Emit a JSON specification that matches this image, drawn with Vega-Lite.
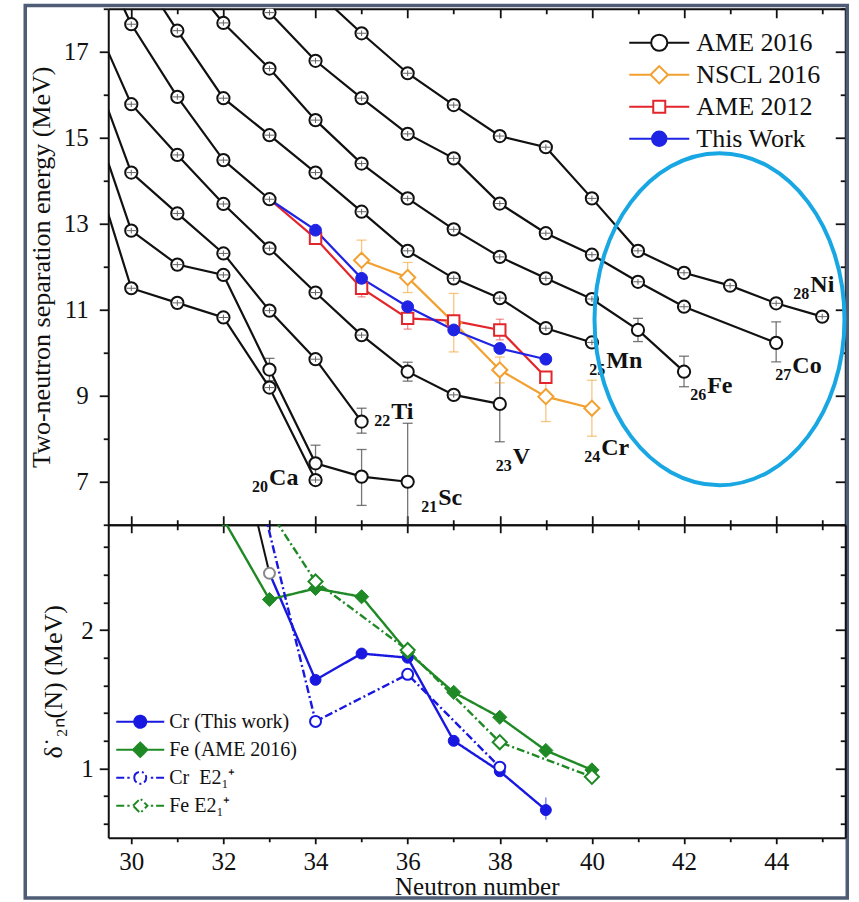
{
  "$schema": "https://vega.github.io/schema/vega-lite/v6.json",
  "padding": {"left": 23.25, "top": 3.75, "right": 0, "bottom": 0},
  "bounds": "flush",
  "spacing": 0,
  "resolve": {
    "scale": {"color": "independent", "strokeDash": "independent"},
    "legend": {"color": "independent", "strokeDash": "independent"}
  },
  "config": {
    "view": {"stroke": null},
    "font": "Liberation Serif",
    "legend": {"labelFont": "Liberation Serif", "labelColor": "#111111"},
    "axis": {
      "grid": false,
      "domainColor": "#111111",
      "domainWidth": 2,
      "tickColor": "#111111",
      "tickWidth": 1.8,
      "labelFont": "Liberation Serif",
      "labelFontSize": 25,
      "labelColor": "#111111",
      "titleFont": "Liberation Serif",
      "titleFontSize": 26,
      "titleFontWeight": "normal",
      "titleColor": "#111111"
    }
  },
  "datasets": {
    "s2n": [
      {"series": "AME 2016", "el": "Ca", "N": 29, "S": 14.95},
      {"series": "AME 2016", "el": "Ca", "N": 30, "S": 11.50},
      {"series": "AME 2016", "el": "Ca", "N": 31, "S": 11.16},
      {"series": "AME 2016", "el": "Ca", "N": 32, "S": 10.82},
      {"series": "AME 2016", "el": "Ca", "N": 33, "S": 9.19},
      {"series": "AME 2016", "el": "Ca", "N": 34, "S": 7.04},
      {"series": "AME 2016", "el": "Sc", "N": 29, "S": 16.0},
      {"series": "AME 2016", "el": "Sc", "N": 30, "S": 12.84},
      {"series": "AME 2016", "el": "Sc", "N": 31, "S": 12.05},
      {"series": "AME 2016", "el": "Sc", "N": 32, "S": 11.81},
      {"series": "AME 2016", "el": "Sc", "N": 33, "S": 9.61, "lo": 9.35, "hi": 9.87},
      {"series": "AME 2016", "el": "Sc", "N": 34, "S": 7.43, "lo": 7.01, "hi": 7.85},
      {"series": "AME 2016", "el": "Sc", "N": 35, "S": 7.12, "lo": 6.45, "hi": 7.75},
      {"series": "AME 2016", "el": "Sc", "N": 36, "S": 7.00, "lo": 5.64, "hi": 8.36},
      {"series": "AME 2016", "el": "Ti", "N": 29, "S": 17.1},
      {"series": "AME 2016", "el": "Ti", "N": 30, "S": 14.19},
      {"series": "AME 2016", "el": "Ti", "N": 31, "S": 13.24},
      {"series": "AME 2016", "el": "Ti", "N": 32, "S": 12.31},
      {"series": "AME 2016", "el": "Ti", "N": 33, "S": 10.98},
      {"series": "AME 2016", "el": "Ti", "N": 34, "S": 9.85},
      {"series": "AME 2016", "el": "Ti", "N": 35, "S": 8.40, "lo": 8.13, "hi": 8.71},
      {"series": "AME 2016", "el": "V", "N": 29, "S": 18.2},
      {"series": "AME 2016", "el": "V", "N": 30, "S": 15.78},
      {"series": "AME 2016", "el": "V", "N": 31, "S": 14.60},
      {"series": "AME 2016", "el": "V", "N": 32, "S": 13.46},
      {"series": "AME 2016", "el": "V", "N": 33, "S": 12.43},
      {"series": "AME 2016", "el": "V", "N": 34, "S": 11.40},
      {"series": "AME 2016", "el": "V", "N": 35, "S": 10.41},
      {"series": "AME 2016", "el": "V", "N": 36, "S": 9.56, "lo": 9.34, "hi": 9.78},
      {"series": "AME 2016", "el": "V", "N": 37, "S": 9.02},
      {"series": "AME 2016", "el": "V", "N": 38, "S": 8.81, "lo": 7.93, "hi": 9.67},
      {"series": "AME 2016", "el": "Cr", "N": 29, "S": 19.9},
      {"series": "AME 2016", "el": "Cr", "N": 30, "S": 17.64},
      {"series": "AME 2016", "el": "Cr", "N": 31, "S": 15.95},
      {"series": "AME 2016", "el": "Cr", "N": 32, "S": 14.48},
      {"series": "AME 2016", "el": "Cr", "N": 33, "S": 13.57},
      {"series": "AME 2016", "el": "Mn", "N": 30, "S": 19.15},
      {"series": "AME 2016", "el": "Mn", "N": 31, "S": 17.49},
      {"series": "AME 2016", "el": "Mn", "N": 32, "S": 15.92},
      {"series": "AME 2016", "el": "Mn", "N": 33, "S": 15.06},
      {"series": "AME 2016", "el": "Mn", "N": 34, "S": 14.19},
      {"series": "AME 2016", "el": "Mn", "N": 35, "S": 13.28},
      {"series": "AME 2016", "el": "Mn", "N": 36, "S": 12.37},
      {"series": "AME 2016", "el": "Mn", "N": 37, "S": 11.73},
      {"series": "AME 2016", "el": "Mn", "N": 38, "S": 11.27},
      {"series": "AME 2016", "el": "Mn", "N": 39, "S": 10.57},
      {"series": "AME 2016", "el": "Mn", "N": 40, "S": 10.24},
      {"series": "AME 2016", "el": "Fe", "N": 31, "S": 18.97},
      {"series": "AME 2016", "el": "Fe", "N": 32, "S": 17.67},
      {"series": "AME 2016", "el": "Fe", "N": 33, "S": 16.61},
      {"series": "AME 2016", "el": "Fe", "N": 34, "S": 15.41},
      {"series": "AME 2016", "el": "Fe", "N": 35, "S": 14.40},
      {"series": "AME 2016", "el": "Fe", "N": 36, "S": 13.59},
      {"series": "AME 2016", "el": "Fe", "N": 37, "S": 12.87},
      {"series": "AME 2016", "el": "Fe", "N": 38, "S": 12.23},
      {"series": "AME 2016", "el": "Fe", "N": 39, "S": 11.73},
      {"series": "AME 2016", "el": "Fe", "N": 40, "S": 11.25},
      {"series": "AME 2016", "el": "Fe", "N": 41, "S": 10.53, "lo": 10.26, "hi": 10.80},
      {"series": "AME 2016", "el": "Fe", "N": 42, "S": 9.56, "lo": 9.21, "hi": 9.92},
      {"series": "AME 2016", "el": "Co", "N": 32, "S": 19.1},
      {"series": "AME 2016", "el": "Co", "N": 33, "S": 17.91},
      {"series": "AME 2016", "el": "Co", "N": 34, "S": 16.79},
      {"series": "AME 2016", "el": "Co", "N": 35, "S": 15.92},
      {"series": "AME 2016", "el": "Co", "N": 36, "S": 15.09},
      {"series": "AME 2016", "el": "Co", "N": 37, "S": 14.52},
      {"series": "AME 2016", "el": "Co", "N": 38, "S": 13.47},
      {"series": "AME 2016", "el": "Co", "N": 39, "S": 12.78},
      {"series": "AME 2016", "el": "Co", "N": 40, "S": 12.28},
      {"series": "AME 2016", "el": "Co", "N": 41, "S": 11.65},
      {"series": "AME 2016", "el": "Co", "N": 42, "S": 11.07},
      {"series": "AME 2016", "el": "Co", "N": 44, "S": 10.23, "lo": 9.79, "hi": 10.72},
      {"series": "AME 2016", "el": "Ni", "N": 34, "S": 18.42},
      {"series": "AME 2016", "el": "Ni", "N": 35, "S": 17.43},
      {"series": "AME 2016", "el": "Ni", "N": 36, "S": 16.50},
      {"series": "AME 2016", "el": "Ni", "N": 37, "S": 15.76},
      {"series": "AME 2016", "el": "Ni", "N": 38, "S": 15.04},
      {"series": "AME 2016", "el": "Ni", "N": 39, "S": 14.78},
      {"series": "AME 2016", "el": "Ni", "N": 40, "S": 13.59},
      {"series": "AME 2016", "el": "Ni", "N": 41, "S": 12.37},
      {"series": "AME 2016", "el": "Ni", "N": 42, "S": 11.86},
      {"series": "AME 2016", "el": "Ni", "N": 43, "S": 11.56},
      {"series": "AME 2016", "el": "Ni", "N": 44, "S": 11.15},
      {"series": "AME 2016", "el": "Ni", "N": 45, "S": 10.84},
      {"series": "NSCL 2016", "el": "Cr", "N": 35, "S": 12.15, "lo": 11.68, "hi": 12.62},
      {"series": "NSCL 2016", "el": "Cr", "N": 36, "S": 11.75, "lo": 11.40, "hi": 12.10},
      {"series": "NSCL 2016", "el": "Cr", "N": 37, "S": 10.70, "lo": 10.02, "hi": 11.38},
      {"series": "NSCL 2016", "el": "Cr", "N": 38, "S": 9.60, "lo": 9.30, "hi": 9.90},
      {"series": "NSCL 2016", "el": "Cr", "N": 39, "S": 8.98, "lo": 8.40, "hi": 9.55},
      {"series": "NSCL 2016", "el": "Cr", "N": 40, "S": 8.71, "lo": 8.06, "hi": 9.36},
      {"series": "AME 2012", "el": "Cr", "N": 33, "S": 13.57},
      {"series": "AME 2012", "el": "Cr", "N": 34, "S": 12.66},
      {"series": "AME 2012", "el": "Cr", "N": 35, "S": 11.50, "lo": 11.30, "hi": 11.70},
      {"series": "AME 2012", "el": "Cr", "N": 36, "S": 10.80, "lo": 10.55, "hi": 11.05},
      {"series": "AME 2012", "el": "Cr", "N": 37, "S": 10.74},
      {"series": "AME 2012", "el": "Cr", "N": 38, "S": 10.53, "lo": 10.30, "hi": 10.78},
      {"series": "AME 2012", "el": "Cr", "N": 39, "S": 9.43},
      {"series": "This Work", "el": "Cr", "N": 33, "S": 13.57},
      {"series": "This Work", "el": "Cr", "N": 34, "S": 12.85},
      {"series": "This Work", "el": "Cr", "N": 35, "S": 11.73},
      {"series": "This Work", "el": "Cr", "N": 36, "S": 11.07},
      {"series": "This Work", "el": "Cr", "N": 37, "S": 10.53},
      {"series": "This Work", "el": "Cr", "N": 38, "S": 10.10},
      {"series": "This Work", "el": "Cr", "N": 39, "S": 9.85}
    ],
    "elements": [
      {"sym": "Ca", "Z": "20", "N": 32.97, "S": 6.92},
      {"sym": "Sc", "Z": "21", "N": 36.64, "S": 6.46},
      {"sym": "Ti", "Z": "22", "N": 35.62, "S": 8.45},
      {"sym": "V", "Z": "23", "N": 38.26, "S": 7.41},
      {"sym": "Cr", "Z": "24", "N": 40.18, "S": 7.62},
      {"sym": "Mn", "Z": "25", "N": 40.29, "S": 9.64},
      {"sym": "Fe", "Z": "26", "N": 42.48, "S": 9.06},
      {"sym": "Co", "Z": "27", "N": 44.33, "S": 9.52},
      {"sym": "Ni", "Z": "28", "N": 44.72, "S": 11.42}
    ],
    "d2n": [
      {"series": "Cr (This work)", "N": 33, "d": 2.41},
      {"series": "Cr (This work)", "N": 34, "d": 1.64},
      {"series": "Cr (This work)", "N": 35, "d": 1.83},
      {"series": "Cr (This work)", "N": 36, "d": 1.80},
      {"series": "Cr (This work)", "N": 37, "d": 1.20},
      {"series": "Cr (This work)", "N": 38, "d": 0.98},
      {"series": "Cr (This work)", "N": 39, "d": 0.70, "lo": 0.63, "hi": 0.79},
      {"series": "Fe (AME 2016)", "N": 32, "d": 2.80},
      {"series": "Fe (AME 2016)", "N": 33, "d": 2.22},
      {"series": "Fe (AME 2016)", "N": 34, "d": 2.30},
      {"series": "Fe (AME 2016)", "N": 35, "d": 2.24},
      {"series": "Fe (AME 2016)", "N": 36, "d": 1.84},
      {"series": "Fe (AME 2016)", "N": 37, "d": 1.55},
      {"series": "Fe (AME 2016)", "N": 38, "d": 1.37},
      {"series": "Fe (AME 2016)", "N": 39, "d": 1.13},
      {"series": "Fe (AME 2016)", "N": 40, "d": 0.99},
      {"series": "Cr\u2002E2₁⁺", "N": 32, "d": 4.07},
      {"series": "Cr\u2002E2₁⁺", "N": 34, "d": 1.34},
      {"series": "Cr\u2002E2₁⁺", "N": 36, "d": 1.68},
      {"series": "Cr\u2002E2₁⁺", "N": 38, "d": 1.01},
      {"series": "Fe E2₁⁺", "N": 32, "d": 3.37},
      {"series": "Fe E2₁⁺", "N": 34, "d": 2.35},
      {"series": "Fe E2₁⁺", "N": 36, "d": 1.855},
      {"series": "Fe E2₁⁺", "N": 38, "d": 1.19},
      {"series": "Fe E2₁⁺", "N": 40, "d": 0.94}
    ],
    "crAme": [
      {"N": 32, "d": 3.80},
      {"N": 33, "d": 2.41}
    ]
  },
  "vconcat": [
    {
      "width": 737,
      "height": 516,
      "resolve": {"axis": {"x": "independent", "y": "independent"}},
      "layer": [
        {
          "data": {"values": [{}]},
          "mark": {"type": "rect", "filled": false, "stroke": "#4E5D75", "strokeWidth": 3.5},
          "encoding": {
            "x": {"datum": 27.698, "type": "quantitative", "scale": {"domain": [29.5, 45.5], "nice": false, "zero": false}, "axis": null},
            "x2": {"datum": 45.544},
            "y": {"datum": 18.074, "type": "quantitative", "scale": {"domain": [6, 18], "nice": false, "zero": false}, "axis": null},
            "y2": {"datum": -2.68}
          }
        },
        {
          "data": {"name": "s2n"},
          "transform": [{"filter": "isValid(datum.lo) && datum.series === 'AME 2016'"}],
          "mark": {"type": "rule", "clip": true, "strokeWidth": 1.3, "color": "#555555", "opacity": 0.8},
          "encoding": {
            "x": {"field": "N", "type": "quantitative", "axis": null},
            "y": {"field": "lo", "type": "quantitative", "axis": null},
            "y2": {"field": "hi"}
          }
        },
        {
          "data": {"name": "s2n"},
          "transform": [{"filter": "isValid(datum.lo) && datum.series === 'AME 2016'"}],
          "mark": {"type": "tick", "orient": "horizontal", "clip": true, "size": 10, "thickness": 1.3, "color": "#555555", "opacity": 0.8},
          "encoding": {
            "x": {"field": "N", "type": "quantitative", "axis": null},
            "y": {"field": "lo", "type": "quantitative", "axis": null}
          }
        },
        {
          "data": {"name": "s2n"},
          "transform": [{"filter": "isValid(datum.hi) && datum.series === 'AME 2016'"}],
          "mark": {"type": "tick", "orient": "horizontal", "clip": true, "size": 10, "thickness": 1.3, "color": "#555555", "opacity": 0.8},
          "encoding": {
            "x": {"field": "N", "type": "quantitative", "axis": null},
            "y": {"field": "hi", "type": "quantitative", "axis": null}
          }
        },
        {
          "data": {"name": "s2n"},
          "transform": [{"filter": "isValid(datum.lo) && datum.series === 'NSCL 2016'"}],
          "mark": {"type": "rule", "clip": true, "strokeWidth": 1.3, "color": "#F2A030", "opacity": 0.6},
          "encoding": {
            "x": {"field": "N", "type": "quantitative", "axis": null},
            "y": {"field": "lo", "type": "quantitative", "axis": null},
            "y2": {"field": "hi"}
          }
        },
        {
          "data": {"name": "s2n"},
          "transform": [{"filter": "isValid(datum.lo) && datum.series === 'NSCL 2016'"}],
          "mark": {"type": "tick", "orient": "horizontal", "clip": true, "size": 10, "thickness": 1.3, "color": "#F2A030", "opacity": 0.6},
          "encoding": {
            "x": {"field": "N", "type": "quantitative", "axis": null},
            "y": {"field": "lo", "type": "quantitative", "axis": null}
          }
        },
        {
          "data": {"name": "s2n"},
          "transform": [{"filter": "isValid(datum.hi) && datum.series === 'NSCL 2016'"}],
          "mark": {"type": "tick", "orient": "horizontal", "clip": true, "size": 10, "thickness": 1.3, "color": "#F2A030", "opacity": 0.6},
          "encoding": {
            "x": {"field": "N", "type": "quantitative", "axis": null},
            "y": {"field": "hi", "type": "quantitative", "axis": null}
          }
        },
        {
          "data": {"name": "s2n"},
          "transform": [{"filter": "isValid(datum.lo) && datum.series === 'AME 2012'"}],
          "mark": {"type": "rule", "clip": true, "strokeWidth": 1.3, "color": "#E3262C", "opacity": 0.5},
          "encoding": {
            "x": {"field": "N", "type": "quantitative", "axis": null},
            "y": {"field": "lo", "type": "quantitative", "axis": null},
            "y2": {"field": "hi"}
          }
        },
        {
          "data": {"name": "s2n"},
          "transform": [{"filter": "isValid(datum.lo) && datum.series === 'AME 2012'"}],
          "mark": {"type": "tick", "orient": "horizontal", "clip": true, "size": 8, "thickness": 1.3, "color": "#E3262C", "opacity": 0.5},
          "encoding": {
            "x": {"field": "N", "type": "quantitative", "axis": null},
            "y": {"field": "lo", "type": "quantitative", "axis": null}
          }
        },
        {
          "data": {"name": "s2n"},
          "transform": [{"filter": "isValid(datum.hi) && datum.series === 'AME 2012'"}],
          "mark": {"type": "tick", "orient": "horizontal", "clip": true, "size": 8, "thickness": 1.3, "color": "#E3262C", "opacity": 0.5},
          "encoding": {
            "x": {"field": "N", "type": "quantitative", "axis": null},
            "y": {"field": "hi", "type": "quantitative", "axis": null}
          }
        },
        {
          "data": {"name": "s2n"},
          "mark": {"type": "line", "clip": true, "strokeWidth": 2.2},
          "encoding": {
            "x": {
              "field": "N", "type": "quantitative",
              "axis": {
                "orient": "bottom", "values": [30, 31, 32, 33, 34, 35, 36, 37, 38, 39, 40, 41, 42, 43, 44, 45],
                "labels": false, "title": null,
                "tickSize": {"condition": {"test": "datum.value % 2 === 0", "value": -9}, "value": -5}
              }
            },
            "y": {
              "field": "S", "type": "quantitative",
              "axis": {
                "orient": "left", "values": [6, 7, 8, 9, 10, 11, 12, 13, 14, 15, 16, 17, 18],
                "labelExpr": "datum.value % 2 === 1 ? datum.label : ''",
                "tickSize": {"condition": {"test": "datum.value % 2 === 1", "value": 9}, "value": 5},
                "labelPadding": 11,
                "title": "Two-neutron separation energy (MeV)",
                "titlePadding": 9
              }
            },
            "color": {
              "field": "series", "type": "nominal",
              "scale": {"domain": ["AME 2016", "NSCL 2016", "AME 2012", "This Work"], "range": ["#111111", "#F2A030", "#E3262C", "#1F23E4"]},
              "legend": {
                "title": null,
                "orient": "none",
                "legendX": 520,
                "legendY": 18,
                "padding": 0,
                "rowPadding": 0,
                "clipHeight": 32,
                "symbolSize": 3600,
                "symbolStrokeWidth": 2,
                "labelFont": "Liberation Serif",
                "labelFontSize": 26,
                "labelColor": "#111111",
                "labelOffset": 6,
                "labelLimit": 300,
                "encode": {
                  "labels": {
                    "update": {
                      "font": {"value": "Liberation Serif"},
                      "fontSize": {"value": 26},
                      "fill": {"value": "#111111"}
                    }
                  },
                  "symbols": {
                    "update": {
                      "size": {"value": 3600},
                      "strokeWidth": {"value": 2},
                      "opacity": {"value": 1},
                      "shape": [
                        {"test": "datum.value === 'AME 2016'", "value": "M-1,0H-0.27M0.27,0H1M-0.27,0A0.27,0.27,0,1,1,0.27,0A0.27,0.27,0,1,1,-0.27,0Z"},
                        {"test": "datum.value === 'NSCL 2016'", "value": "M-1,0H-0.29M0.29,0H1M-0.29,0L0,-0.29L0.29,0L0,0.29Z"},
                        {"test": "datum.value === 'AME 2012'", "value": "M-1,0H-0.2M0.2,0H1M-0.2,-0.2H0.2V0.2H-0.2Z"},
                        {"value": "M-1,0H1M-0.24,0A0.24,0.24,0,1,1,0.24,0A0.24,0.24,0,1,1,-0.24,0Z"}
                      ],
                      "fill": [
                        {"test": "datum.value === 'This Work'", "value": "#1F23E4"},
                        {"value": "white"}
                      ],
                      "stroke": [
                        {"test": "datum.value === 'AME 2016'", "value": "#111111"},
                        {"test": "datum.value === 'NSCL 2016'", "value": "#F2A030"},
                        {"test": "datum.value === 'AME 2012'", "value": "#E3262C"},
                        {"value": "#1F23E4"}
                      ]
                    }
                  }
                }
              }
            },
            "detail": {"field": "el"},
            "order": {"field": "N", "type": "quantitative"}
          }
        },
        {
          "data": {"name": "s2n"},
          "transform": [{"filter": "datum.series === 'AME 2016'"}],
          "mark": {"type": "point", "shape": "circle", "size": 150, "filled": true, "fill": "white", "stroke": "#111111", "strokeWidth": 2, "opacity": 1, "clip": true},
          "encoding": {
            "x": {
              "field": "N", "type": "quantitative",
              "axis": {
                "orient": "top", "values": [30, 31, 32, 33, 34, 35, 36, 37, 38, 39, 40, 41, 42, 43, 44, 45],
                "labels": false, "title": null,
                "tickSize": {"condition": {"test": "datum.value % 2 === 0", "value": -9}, "value": -5}
              }
            },
            "y": {
              "field": "S", "type": "quantitative",
              "axis": {
                "orient": "right", "values": [6, 7, 8, 9, 10, 11, 12, 13, 14, 15, 16, 17, 18],
                "labels": false, "title": null,
                "tickSize": {"condition": {"test": "datum.value % 2 === 1", "value": -10}, "value": -5}
              }
            }
          }
        },
        {
          "data": {"name": "s2n"},
          "transform": [{"filter": "datum.series === 'AME 2016' && !isValid(datum.lo)"}],
          "mark": {"type": "point", "shape": "M-1,0H1M0,-0.6V0.6", "size": 90, "filled": false, "stroke": "#666666", "strokeWidth": 1, "opacity": 1, "clip": true},
          "encoding": {
            "x": {"field": "N", "type": "quantitative", "axis": null},
            "y": {"field": "S", "type": "quantitative", "axis": null}
          }
        },
        {
          "data": {"name": "s2n"},
          "transform": [{"filter": "datum.series === 'NSCL 2016'"}],
          "mark": {"type": "point", "shape": "diamond", "size": 230, "filled": true, "fill": "white", "stroke": "#F2A030", "strokeWidth": 2, "opacity": 1, "clip": true},
          "encoding": {
            "x": {"field": "N", "type": "quantitative", "axis": null},
            "y": {"field": "S", "type": "quantitative", "axis": null}
          }
        },
        {
          "data": {"name": "s2n"},
          "transform": [{"filter": "datum.series === 'AME 2012' && datum.N > 33"}],
          "mark": {"type": "point", "shape": "square", "size": 130, "filled": true, "fill": "white", "stroke": "#E3262C", "strokeWidth": 2, "opacity": 1, "clip": true},
          "encoding": {
            "x": {"field": "N", "type": "quantitative", "axis": null},
            "y": {"field": "S", "type": "quantitative", "axis": null}
          }
        },
        {
          "data": {"name": "s2n"},
          "transform": [{"filter": "datum.series === 'This Work' && datum.N > 33"}],
          "mark": {"type": "point", "shape": "circle", "size": 140, "filled": true, "fill": "#1F23E4", "stroke": "#1F23E4", "strokeWidth": 1, "opacity": 1, "clip": true},
          "encoding": {
            "x": {"field": "N", "type": "quantitative", "axis": null},
            "y": {"field": "S", "type": "quantitative", "axis": null}
          }
        },
        {
          "data": {"name": "elements"},
          "mark": {"type": "text", "align": "right", "baseline": "alphabetic", "dy": 7, "font": "Liberation Serif", "fontSize": 16, "fontWeight": "bold", "color": "#111111"},
          "encoding": {
            "x": {"field": "N", "type": "quantitative", "axis": null},
            "y": {"field": "S", "type": "quantitative", "axis": null},
            "text": {"field": "Z"}
          }
        },
        {
          "data": {"name": "elements"},
          "mark": {"type": "text", "align": "left", "baseline": "alphabetic", "dx": 1, "font": "Liberation Serif", "fontSize": 24, "fontWeight": "bold", "color": "#111111"},
          "encoding": {
            "x": {"field": "N", "type": "quantitative", "axis": null},
            "y": {"field": "S", "type": "quantitative", "axis": null},
            "text": {"field": "sym"}
          }
        },
        {
          "data": {"values": [{}]},
          "mark": {"type": "point", "shape": "M-0.753,0A0.753,1,0,1,1,0.753,0A0.753,1,0,1,1,-0.753,0Z", "size": 110224, "filled": false, "stroke": "#19A7E3", "strokeWidth": 4, "opacity": 1},
          "encoding": {
            "x": {"datum": 42.77, "type": "quantitative", "axis": null},
            "y": {"datum": 10.78, "type": "quantitative", "axis": null}
          }
        }
      ]
    },
    {
      "width": 737,
      "height": 313,
      "resolve": {"axis": {"x": "independent", "y": "independent"}},
      "layer": [
        {
          "data": {"name": "d2n"},
          "transform": [{"filter": "isValid(datum.lo)"}],
          "mark": {"type": "rule", "color": "#1818E0", "strokeWidth": 1.3, "opacity": 0.6, "clip": true},
          "encoding": {
            "x": {"field": "N", "type": "quantitative", "scale": {"domain": [29.5, 45.5], "nice": false, "zero": false}, "axis": null},
            "y": {"field": "lo", "type": "quantitative", "scale": {"domain": [0.5, 2.76], "nice": false, "zero": false}, "axis": null},
            "y2": {"field": "hi"}
          }
        },
        {
          "data": {"name": "d2n"},
          "mark": {"type": "line", "clip": true, "strokeWidth": 2.4},
          "encoding": {
            "x": {
              "field": "N", "type": "quantitative",
              "axis": {
                "orient": "bottom", "values": [30, 31, 32, 33, 34, 35, 36, 37, 38, 39, 40, 41, 42, 43, 44, 45],
                "labelExpr": "datum.value % 2 === 0 ? datum.label : ''",
                "tickSize": {"condition": {"test": "datum.value % 2 === 0", "value": 6}, "value": 4},
                "labelPadding": 6,
                "title": "Neutron number",
                "titleFontSize": 25,
                "titlePadding": 0
              }
            },
            "y": {
              "field": "d", "type": "quantitative",
              "axis": {
                "orient": "left", "values": [0.6, 0.8, 1, 1.2, 1.4, 1.6, 1.8, 2, 2.2, 2.4, 2.6],
                "labelExpr": "datum.value === 1 ? '1' : datum.value === 2 ? '2' : ''",
                "tickSize": {"condition": {"test": "datum.value === 1 || datum.value === 2", "value": 9}, "value": 5},
                "labelPadding": 6,
                "title": "δ˙₂ₙ(N) (MeV)",
                "titlePadding": 14
              }
            },
            "color": {
              "field": "series", "type": "nominal",
              "scale": {"domain": ["Cr (This work)", "Fe (AME 2016)", "Cr\u2002E2₁⁺", "Fe E2₁⁺"], "range": ["#1818E0", "#1F8A25", "#1818E0", "#1F8A25"]},
              "legend": {
                "title": null,
                "orient": "none",
                "legendX": 7,
                "legendY": 183,
                "padding": 0,
                "rowPadding": 0,
                "clipHeight": 28,
                "symbolSize": 2304,
                "symbolStrokeWidth": 2,
                "labelFont": "Liberation Serif",
                "labelFontSize": 20,
                "labelColor": "#111111",
                "labelOffset": 4,
                "labelLimit": 300,
                "encode": {
                  "labels": {
                    "update": {
                      "font": {"value": "Liberation Serif"},
                      "fontSize": {"value": 20},
                      "fill": {"value": "#111111"}
                    }
                  },
                  "symbols": {
                    "update": {
                      "size": {"value": 2304},
                      "strokeWidth": {"value": 2},
                      "opacity": {"value": 1},
                      "strokeDash": {"value": [1, 0]},
                      "shape": [
                        {"test": "datum.value === 'Cr (This work)'", "value": "M-1,0H1M-0.25,0A0.25,0.25,0,1,1,0.25,0A0.25,0.25,0,1,1,-0.25,0Z"},
                        {"test": "datum.value === 'Fe (AME 2016)'", "value": "M-1,0H1M-0.3,0L0,-0.3L0.3,0L0,0.3Z"},
                        {"test": "indexof(datum.value, 'Cr') === 0", "value": "M-1,0H-0.66M-0.54,0H-0.44M0.44,0H0.54M0.66,0H1M-0.25,0A0.25,0.25,0,1,1,0.25,0A0.25,0.25,0,1,1,-0.25,0Z"},
                        {"value": "M-1,0H-0.66M-0.54,0H-0.44M0.44,0H0.54M0.66,0H1M-0.3,0L0,-0.3L0.3,0L0,0.3Z"}
                      ],
                      "fill": [
                        {"test": "datum.value === 'Cr (This work)'", "value": "#1818E0"},
                        {"test": "datum.value === 'Fe (AME 2016)'", "value": "#1F8A25"},
                        {"value": "white"}
                      ],
                      "stroke": [
                        {"test": "indexof(datum.value, 'Cr') === 0", "value": "#1818E0"},
                        {"value": "#1F8A25"}
                      ]
                    }
                  }
                }
              }
            },
            "strokeDash": {
              "field": "series", "type": "nominal",
              "scale": {"domain": ["Cr (This work)", "Fe (AME 2016)", "Cr\u2002E2₁⁺", "Fe E2₁⁺"], "range": [[1, 0], [1, 0], [8, 3, 2, 3], [8, 3, 2, 3]]},
              "legend": null
            },
            "order": {"field": "N", "type": "quantitative"}
          }
        },
        {
          "data": {"name": "crAme"},
          "mark": {"type": "line", "clip": true, "strokeWidth": 2, "color": "#111111"},
          "encoding": {
            "x": {"field": "N", "type": "quantitative", "axis": null},
            "y": {"field": "d", "type": "quantitative", "axis": null}
          }
        },
        {
          "data": {"name": "d2n"},
          "transform": [{"filter": "datum.series === 'Cr (This work)' && datum.N > 33"}],
          "mark": {"type": "point", "shape": "circle", "size": 120, "filled": true, "fill": "#1818E0", "stroke": "#1818E0", "strokeWidth": 1, "opacity": 1, "clip": true},
          "encoding": {
            "x": {
              "field": "N", "type": "quantitative",
              "axis": {
                "orient": "top", "values": [30, 31, 32, 33, 34, 35, 36, 37, 38, 39, 40, 41, 42, 43, 44, 45],
                "labels": false, "title": null,
                "tickSize": {"condition": {"test": "datum.value % 2 === 0", "value": -8}, "value": -5}
              }
            },
            "y": {
              "field": "d", "type": "quantitative",
              "axis": {
                "orient": "right", "values": [0.6, 0.8, 1, 1.2, 1.4, 1.6, 1.8, 2, 2.2, 2.4, 2.6],
                "labels": false, "title": null,
                "tickSize": {"condition": {"test": "datum.value === 1 || datum.value === 2", "value": -10}, "value": -5}
              }
            }
          }
        },
        {
          "data": {"name": "d2n"},
          "transform": [{"filter": "datum.series === 'Fe (AME 2016)'"}],
          "mark": {"type": "point", "shape": "diamond", "size": 200, "filled": true, "fill": "#1F8A25", "stroke": "#1F8A25", "strokeWidth": 1, "opacity": 1, "clip": true},
          "encoding": {
            "x": {"field": "N", "type": "quantitative", "axis": null},
            "y": {"field": "d", "type": "quantitative", "axis": null}
          }
        },
        {
          "data": {"name": "d2n"},
          "transform": [{"filter": "datum.series === 'Cr\u2002E2₁⁺'"}],
          "mark": {"type": "point", "shape": "circle", "size": 120, "filled": true, "fill": "white", "stroke": "#1818E0", "strokeWidth": 2, "opacity": 1, "clip": true},
          "encoding": {
            "x": {"field": "N", "type": "quantitative", "axis": null},
            "y": {"field": "d", "type": "quantitative", "axis": null}
          }
        },
        {
          "data": {"name": "d2n"},
          "transform": [{"filter": "datum.series === 'Fe E2₁⁺'"}],
          "mark": {"type": "point", "shape": "diamond", "size": 200, "filled": true, "fill": "white", "stroke": "#1F8A25", "strokeWidth": 2, "opacity": 1, "clip": true},
          "encoding": {
            "x": {"field": "N", "type": "quantitative", "axis": null},
            "y": {"field": "d", "type": "quantitative", "axis": null}
          }
        },
        {
          "data": {"name": "crAme"},
          "transform": [{"filter": "datum.N === 33"}],
          "mark": {"type": "point", "shape": "circle", "size": 120, "filled": true, "fill": "white", "stroke": "#888888", "strokeWidth": 2, "opacity": 1, "clip": true},
          "encoding": {
            "x": {"field": "N", "type": "quantitative", "axis": null},
            "y": {"field": "d", "type": "quantitative", "axis": null}
          }
        }
      ]
    }
  ]
}
